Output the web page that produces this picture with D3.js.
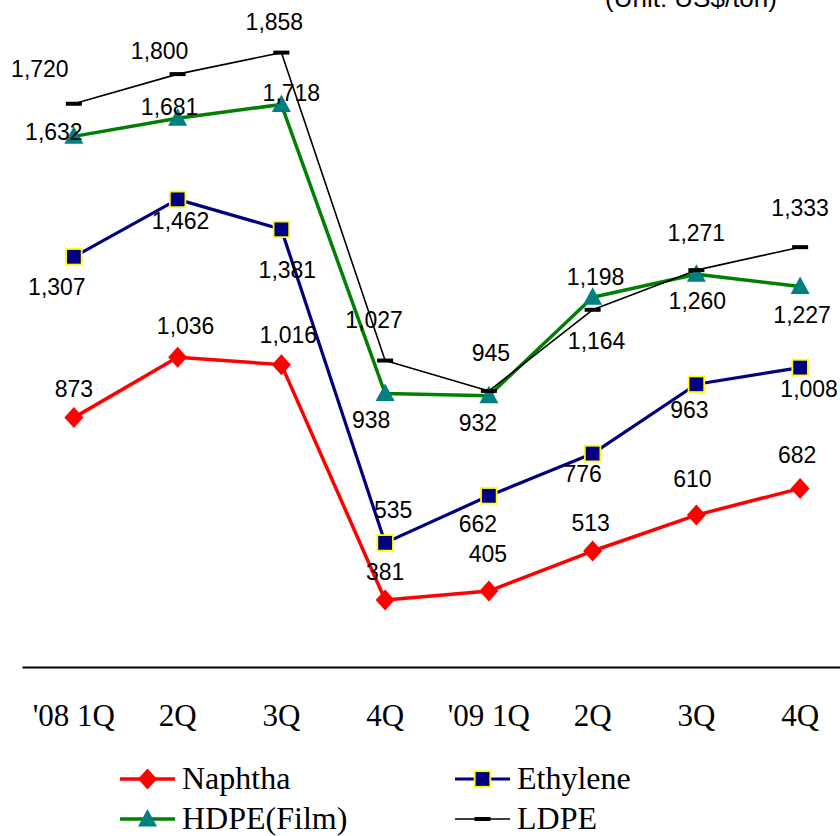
<!DOCTYPE html>
<html>
<head>
<meta charset="utf-8">
<script src="https://cdn.jsdelivr.net/npm/d3@7"></script>
<style>
  body { margin: 0; background: #fff; }
  svg { display: block; }
</style>
</head>
<body>
<svg id="chart" width="840" height="836"></svg>
<script>
// Quarterly prices, US$/ton
const quarters = ["'08 1Q", "2Q", "3Q", "4Q", "'09 1Q", "2Q", "3Q", "4Q"];
const naphtha  = [873, 1036, 1016, 381, 405, 513, 610, 682];
const ethylene = [1307, 1462, 1381, 535, 662, 776, 963, 1008];
const hdpeFilm = [1632, 1681, 1718, 938, 932, 1198, 1260, 1227];
const ldpe     = [1720, 1800, 1858, 1027, 945, 1164, 1271, 1333];
const seriesNames = ["Naphtha", "Ethylene", "HDPE(Film)", "LDPE"];
const unitLabel = "(Unit: US$/ton)";

// Value-label placement per point: [dx, dy] from the marker to the label baseline
const labelPlacement = {
  "Naphtha":    [[0,-21],[8,-23],[7,-22],[0,-20],[-1,-29],[-2,-20],[-4,-28],[-3,-25]],
  "Ethylene":   [[-17,38],[3,30],[6,49],[8,-25],[-11,36],[-10,28],[-7,34],[9,29]],
  "HDPE(Film)": [[-20,4],[-8,-3],[10,-3],[-14,34],[-11,35],[3,-12],[1,35],[2,37]],
  "LDPE":       [[-34,-27],[-18,-15],[-7,-23],[-11,-33],[2,-30],[4,39],[0,-29],[0,-31]]
};

const series = [
  { name: seriesNames[0], values: naphtha,  stroke: "#ff0000", width: 3.5, marker: "diamond" },
  { name: seriesNames[1], values: ethylene, stroke: "#000080", width: 3.2, marker: "square" },
  { name: seriesNames[2], values: hdpeFilm, stroke: "#008000", width: 3.5, marker: "triangle" },
  { name: seriesNames[3], values: ldpe,     stroke: "#000000", width: 1.6, marker: "dash" }
];

const svg = d3.select("#chart");
const idx = d3.range(quarters.length);

const x = d3.scaleBand().domain(idx).range([22, 852]);
const cx = i => x(i) + x.bandwidth() / 2;
const y = d3.scaleLinear().domain([200, 2000]).range([667, 0]);

// Category axis
const xAxis = svg.append("g")
  .attr("transform", `translate(0,${y(200)})`)
  .call(d3.axisBottom(x).tickSize(0).tickSizeOuter(0).tickPadding(0)
    .tickFormat(i => quarters[i]));
xAxis.select(".domain").attr("stroke", "#000").attr("stroke-width", 2);
xAxis.selectAll(".tick text")
  .attr("y", 59).attr("dy", 0)
  .attr("font-family", "'Liberation Serif', serif")
  .attr("font-size", 31)
  .attr("fill", "#000");

// Unit caption along the top edge
svg.append("text")
  .attr("x", 605).attr("y", 7)
  .attr("font-family", "'Liberation Sans', Arial, sans-serif")
  .attr("font-size", 26)
  .text(unitLabel);

function drawMarker(g, type, px, py) {
  if (type === "diamond") {
    g.append("path")
      .attr("d", `M${px},${py - 10.5}L${px + 9.5},${py}L${px},${py + 10.5}L${px - 9.5},${py}Z`)
      .attr("fill", "#ff0000");
  } else if (type === "square") {
    g.append("rect")
      .attr("x", px - 7.8).attr("y", py - 7.8).attr("width", 15.6).attr("height", 15.6)
      .attr("fill", "#000080").attr("stroke", "#ffff00").attr("stroke-width", 1.8);
  } else if (type === "triangle") {
    g.append("path")
      .attr("d", `M${px},${py - 10}L${px + 9.5},${py + 7.5}L${px - 9.5},${py + 7.5}Z`)
      .attr("fill", "#008080");
  } else if (type === "dash") {
    g.append("rect")
      .attr("x", px - 8).attr("y", py - 2).attr("width", 16).attr("height", 4)
      .attr("fill", "#000");
  }
}

const line = d3.line().x((d, i) => cx(i)).y(d => y(d));

series.forEach(s => {
  const g = svg.append("g");
  g.append("path")
    .datum(s.values)
    .attr("d", line)
    .attr("fill", "none")
    .attr("stroke", s.stroke)
    .attr("stroke-width", s.width)
    .attr("stroke-linejoin", "round");
  s.values.forEach((v, i) => drawMarker(g, s.marker, cx(i), y(v)));
});

// Value labels
const fmt = d3.format(",");
series.forEach(s => {
  const place = labelPlacement[s.name];
  svg.append("g").selectAll("text")
    .data(s.values)
    .join("text")
    .attr("x", (d, i) => cx(i) + place[i][0])
    .attr("y", (d, i) => y(d) + place[i][1])
    .attr("text-anchor", "middle")
    .attr("font-family", "'Liberation Sans', Arial, sans-serif")
    .attr("font-size", 23)
    .attr("fill", "#000")
    .text(d => fmt(d));
});

// Legend
const legendPos = [[120, 779], [455, 779], [120, 819], [455, 819]];
series.forEach((s, k) => {
  const [lx, ly] = legendPos[k];
  const g = svg.append("g");
  g.append("line")
    .attr("x1", lx).attr("x2", lx + 55).attr("y1", ly).attr("y2", ly)
    .attr("stroke", s.stroke).attr("stroke-width", s.width);
  drawMarker(g, s.marker, lx + 27.5, ly);
  g.append("text")
    .attr("x", lx + 62).attr("y", ly + 10)
    .attr("font-family", "'Liberation Serif', serif")
    .attr("font-size", 32)
    .attr("fill", "#000")
    .text(s.name);
});
</script>
</body>
</html>
